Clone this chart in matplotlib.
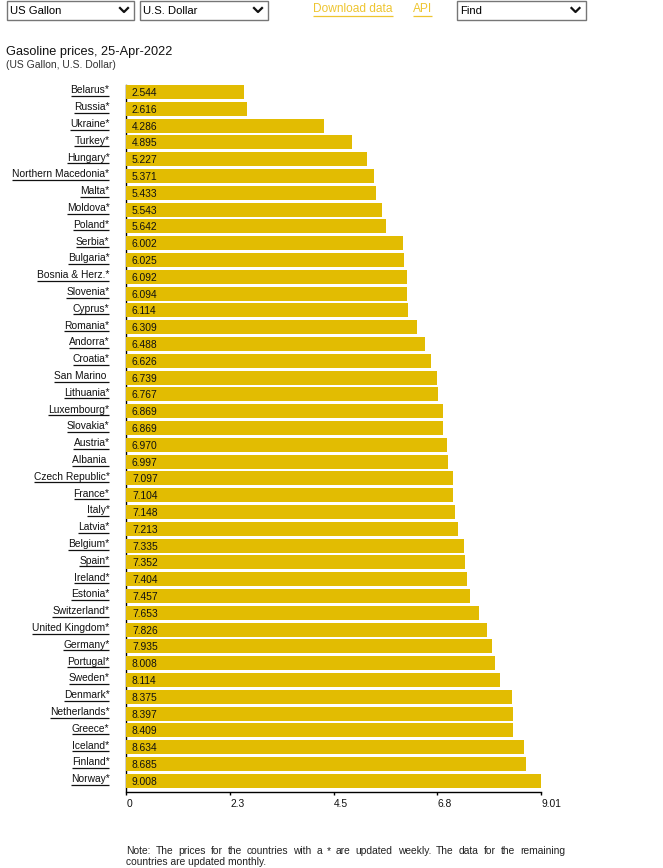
import matplotlib
matplotlib.use('Agg')
import matplotlib.pyplot as plt
from matplotlib.patches import Rectangle

plt.rcParams['font.family'] = ['Liberation Sans', 'DejaVu Sans']

countries = ['Belarus*', 'Russia*', 'Ukraine*', 'Turkey*', 'Hungary*', 'Northern Macedonia*',
             'Malta*', 'Moldova*', 'Poland*', 'Serbia*', 'Bulgaria*', 'Bosnia & Herz.*',
             'Slovenia*', 'Cyprus*', 'Romania*', 'Andorra*', 'Croatia*', 'San Marino ',
             'Lithuania*', 'Luxembourg*', 'Slovakia*', 'Austria*', 'Albania ', 'Czech Republic*',
             'France*', 'Italy*', 'Latvia*', 'Belgium*', 'Spain*', 'Ireland*', 'Estonia*',
             'Switzerland*', 'United Kingdom*', 'Germany*', 'Portugal*', 'Sweden*', 'Denmark*',
             'Netherlands*', 'Greece*', 'Iceland*', 'Finland*', 'Norway*']
prices = [2.544, 2.616, 4.286, 4.895, 5.227, 5.371, 5.433, 5.543, 5.642, 6.002, 6.025, 6.092,
          6.094, 6.114, 6.309, 6.488, 6.626, 6.739, 6.767, 6.869, 6.869, 6.970, 6.997, 7.097,
          7.104, 7.148, 7.213, 7.335, 7.352, 7.404, 7.457, 7.653, 7.826, 7.935, 8.008, 8.114,
          8.375, 8.397, 8.409, 8.634, 8.685, 9.008]
tick_values = [0, 2.2525, 4.505, 6.7575, 9.01]
tick_labels = ['0', '2.3', '4.5', '6.8', '9.01']
select_labels = ['US Gallon', 'U.S. Dollar', 'Find']
note_lines = ['Note: The prices for the countries with a * are updated weekly. The data for the remaining',
              'countries are updated monthly.']

BAR = '#e2bc02'
LINK = '#eec530'
W, H = 663, 868

fig = plt.figure(figsize=(W / 100, H / 100), dpi=100, facecolor='white')

# page overlay in pixel coordinates, for the html bits around the chart
page = fig.add_axes([0, 0, 1, 1], zorder=5)
page.set_xlim(0, W)
page.set_ylim(H, 0)
page.axis('off')

# chart area
ax = fig.add_axes([126.5 / W, 1 - 791.5 / H, 414.5 / W, (791.5 - 84.9) / H])
ax.barh(range(len(prices)), prices, height=0.83, color=BAR, zorder=3)
ax.set_xlim(0, 9.01)
ax.set_ylim(41.64, -0.42)
for s in ['top', 'right']:
    ax.spines[s].set_visible(False)
ax.spines['left'].set_linewidth(1)
ax.spines['bottom'].set_linewidth(1)
ax.set_yticks([])
ax.set_xticks(tick_values)
ax.set_xticklabels(tick_labels, ha='left', fontsize=7.4, color='#111111')
ax.tick_params(axis='x', length=2.5, width=1, pad=3)

names = []
for i, (c, p) in enumerate(zip(countries, prices)):
    ax.annotate('%.3f' % p, xy=(0, i), xytext=(5.5, -1), textcoords='offset pixels',
                ha='left', va='center', fontsize=7.4, color='#111111', zorder=4)
    names.append(ax.annotate(c, xy=(0, i), xytext=(-17, 1.5), textcoords='offset pixels',
                             ha='right', va='center', fontsize=7.4, color='#111111',
                             annotation_clip=False))

# title block
page.text(6, 52, 'Gasoline prices, 25-Apr-2022', fontsize=9.2, va='center', color='#111111')
page.text(6, 65.5, '(US Gallon, U.S. Dollar)', fontsize=7.5, va='center', color='#333333')

# select boxes
for (x0, x1), label in zip([(6.5, 134), (139.5, 268), (456.5, 585.5)], select_labels):
    page.add_patch(Rectangle((x0, 0.5), x1 - x0, 19.5, fc='white', ec='#767676', lw=1))
    page.text(x0 + 3.5, 11, label, fontsize=8.1, va='center', color='black')
    cx = x1 - 10
    page.plot([cx - 4, cx, cx + 4], [8, 12, 8], color='#111111', lw=1.6)

# links
download = page.text(313, 9.5, 'Download data', fontsize=8.6, va='center', color=LINK)
api = page.text(412.5, 9.5, 'API', fontsize=8.6, va='center', color=LINK)

# note text, first line justified word by word like the browser does
fig.canvas.draw()
renderer = fig.canvas.get_renderer()
words = note_lines[0].split(' ')
word_texts = [page.text(0, 851, w, fontsize=7.4, va='center', color='#222222') for w in words]
widths = [t.get_window_extent(renderer).width for t in word_texts]
gap = (565 - 126 - sum(widths)) / (len(words) - 1)
x = 126
for t, w in zip(word_texts, widths):
    t.set_x(x)
    x += w + gap
page.text(126, 862, note_lines[1], fontsize=7.4, va='center', color='#222222')

# underlines for the link style labels, fixed offset from the row centre
to_px = ax.transData.transform
for i, n in enumerate(names):
    bb = n.get_window_extent(renderer)
    y = int(H - to_px((0, i))[1] + 3.5) + 0.5
    page.plot([bb.x0, bb.x1], [y, y], color='#111111', lw=0.9, solid_capstyle='butt')
for t in [download, api]:
    bb = t.get_window_extent(renderer)
    page.plot([bb.x0, bb.x1], [15.5, 15.5], color=LINK, lw=0.9, solid_capstyle='butt')

page.set_xlim(0, W)
page.set_ylim(H, 0)
fig.savefig('out.png', dpi=100)
